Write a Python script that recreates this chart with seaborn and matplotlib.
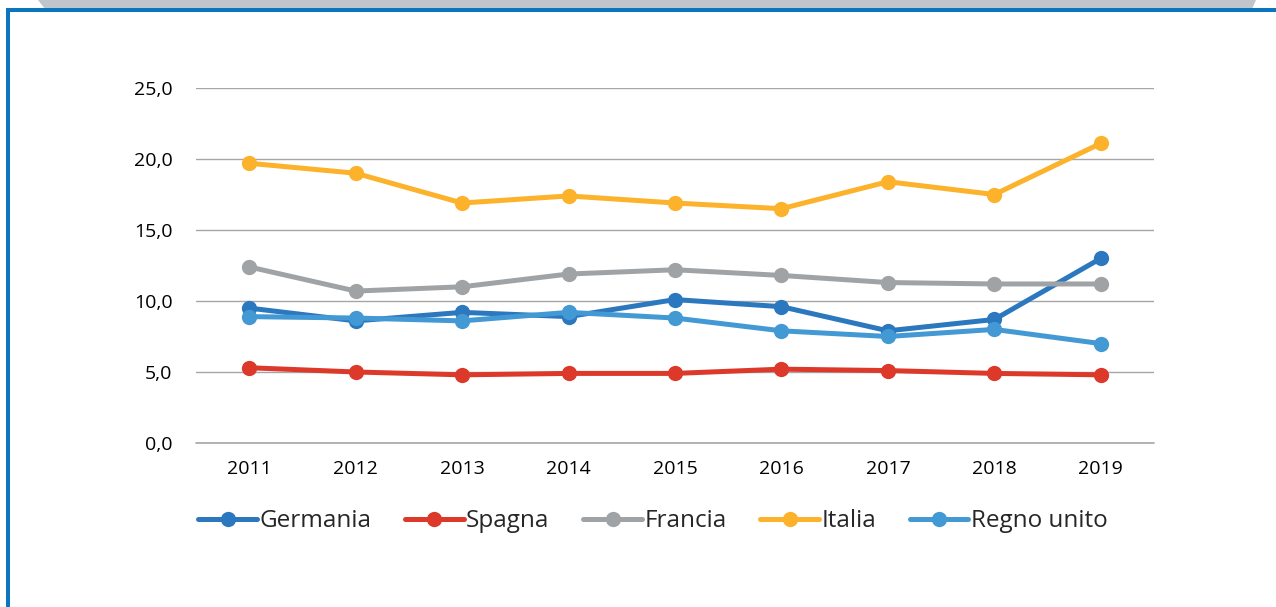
import pandas as pd
import seaborn as sns
import matplotlib.pyplot as plt
from matplotlib.patches import Polygon, Rectangle

# Data
anni = ['2011', '2012', '2013', '2014', '2015', '2016', '2017', '2018', '2019']
germania = [9.5, 8.6, 9.2, 8.9, 10.1, 9.6, 7.9, 8.7, 13.0]
spagna = [5.3, 5.0, 4.8, 4.9, 4.9, 5.2, 5.1, 4.9, 4.8]
francia = [12.4, 10.7, 11.0, 11.9, 12.2, 11.8, 11.3, 11.2, 11.2]
italia = [19.7, 19.0, 16.9, 17.4, 16.9, 16.5, 18.4, 17.5, 21.1]
regno_unito = [8.9, 8.8, 8.6, 9.2, 8.8, 7.9, 7.5, 8.0, 7.0]

paesi = ['Germania', 'Spagna', 'Francia', 'Italia', 'Regno unito']
colori = ['#2B78BF', '#DC392B', '#A0A3A6', '#FCB22A', '#4299D3']

serie = [germania, spagna, francia, italia, regno_unito]
df = pd.concat([pd.DataFrame({'anno': anni, 'valore': v, 'paese': p})
                for p, v in zip(paesi, serie)], ignore_index=True)

sns.set_theme(style='white')
plt.rcParams['font.family'] = ['Open Sans', 'DejaVu Sans']

fig = plt.figure(figsize=(12.76, 6.07), dpi=100)
ax = fig.add_axes([0.1536, 0.2702, 0.7508, 0.5848])

sns.lineplot(data=df, x='anno', y='valore', hue='paese', palette=colori,
             marker='o', markersize=11, markeredgewidth=0, linewidth=3.6,
             sort=False, ax=ax)

ax.set_xlim(-0.5, len(anni) - 0.5)
ax.set_ylim(0, 25)
ax.set_yticks([0, 5, 10, 15, 20, 25])
ax.set_yticklabels([f'{t:.1f}'.replace('.', ',') for t in [0, 5, 10, 15, 20, 25]])
ax.yaxis.grid(True, color='#A6A6A6', linewidth=1)
ax.axhline(0, color='#A6A6A6', linewidth=1.2, clip_on=False, zorder=0)
ax.set_axisbelow(True)
for s in ax.spines.values():
    s.set_visible(False)
ax.tick_params(axis='both', length=0, labelsize=14, colors='black')
ax.tick_params(axis='x', pad=12)
ax.tick_params(axis='y', pad=17)
ax.set_xlabel('')
ax.set_ylabel('')

handles, labels = ax.get_legend_handles_labels()
ax.legend(handles, labels, loc='upper center', bbox_to_anchor=(0.477, -0.125),
          ncol=5, frameon=False, fontsize=17.5, handlelength=2.4,
          handletextpad=0.1, columnspacing=1.4)

# decorative frame
fig.patches.append(Polygon([[38 / 1276, 1], [45 / 1276, 1 - 9 / 607],
                            [1252 / 1276, 1 - 9 / 607], [1256 / 1276, 1]],
                           closed=True, transform=fig.transFigure,
                           facecolor='#C0C4CB', edgecolor='none'))
fig.patches.append(Rectangle((6 / 1276, 1 - 12 / 607), 1 - 6 / 1276, 4 / 607,
                             transform=fig.transFigure,
                             facecolor='#0B75BE', edgecolor='none'))
fig.patches.append(Rectangle((6 / 1276, 0), 4 / 1276, 1 - 8 / 607,
                             transform=fig.transFigure,
                             facecolor='#0B75BE', edgecolor='none'))

fig.savefig('out.png', dpi=100)
